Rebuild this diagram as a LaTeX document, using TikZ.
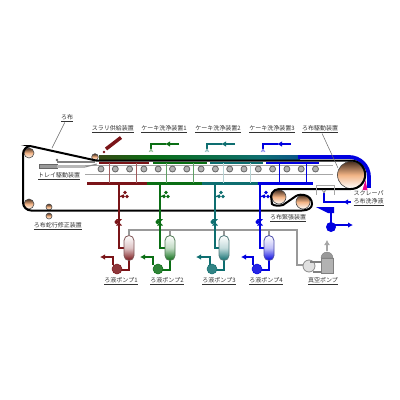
\documentclass[tikz,border=0pt]{standalone}
\usepackage{fontspec}
\newfontfamily\cjk{Noto Sans CJK JP}
\definecolor{reda}{HTML}{7A1418}
\definecolor{grna}{HTML}{0A6E14}
\definecolor{teala}{HTML}{0E6E70}
\definecolor{blua}{HTML}{0000E0}
\definecolor{peach}{HTML}{F2B486}
\definecolor{umber}{HTML}{4A3020}
\pgfdeclarehorizontalshading{bandshade}{100bp}{color(0bp)=(reda!85!black); color(25bp)=(reda!40!grna); color(38bp)=(grna); color(50bp)=(grna!55!teala); color(65bp)=(teala); color(78bp)=(teala!70!blua); color(100bp)=(blua)}
\tikzset{
  lab/.style={font=\cjk\fontsize{6}{7}\selectfont,text=black!80,inner sep=0.5pt},
  lead/.style={draw=black!60,line width=0.5pt},
  beltline/.style={draw=black,line width=2pt},
  roller/.style={draw=black!70,line width=0.6pt,top color=umber,bottom color=white,middle color=peach},
  wheel/.style={draw=black!60,fill=black!30,line width=0.8pt},
  pipe/.style={line width=1.6pt},
  bar/.style={line width=3pt},
  tip/.style={-{Latex[length=5pt,width=5.5pt]}}
}
\usetikzlibrary{arrows.meta}
\begin{document}
\begin{tikzpicture}[x=1pt,y=-1pt]
  \useasboundingbox (0,0) rectangle (400,400);
  % rails and tray cylinder
  \draw[black!35,line width=0.8pt] (85,165)--(333,165);
  \draw[black!35,line width=0.8pt] (85,174)--(333,174);
  \fill[black!40,draw=black!60,line width=0.3pt] (39,164) rectangle (57,168);
  \fill[black!28] (57,165) rectangle (85,168);
  \draw[black!45,line width=1pt] (85,167)--(97,164);
  \draw[black!50,line width=2pt] (57,161.5)--(95,161.5);
  \fill[black!60] (57,160) circle (1.3);
  % band of cake
  \shade[shading=bandshade] (99,155) rectangle (300,160);
  \draw[blua,line width=3.8pt,rounded corners=20] (298,157)--(369,157)--(369,182);
  \fill[blua] (367,182) rectangle (371,188);
  % rollers
  \shade[roller] (351,175) circle (13.5);
  \shade[roller] (279,197) circle (7);
  \shade[roller] (303,202) circle (7);
  \shade[roller] (29,153) circle (5);
  \shade[roller] (29,204) circle (5);
  \shade[roller] (95,157) circle (3.3);
  \shade[roller] (49,207) circle (3);
  \shade[roller] (49,216) circle (3);
  \foreach \wx in {0,...,15}
    \draw[wheel] ({101+14.3*\wx},169) circle (3);
  % belt
  \draw[beltline] (30,146)--(96,160.5)--(351,160.5) arc[start angle=-90,end angle=90,radius=14.25]
    --(279,189) arc[start angle=-90,end angle=-200,radius=8]
    --(272,204) .. controls (274,206) and (279,206) .. (283,205)
    --(296,196) .. controls (301,193) and (312,195) .. (312,204)
    .. controls (312,208) and (308,210.5) .. (302,210.5)
    --(31,210.5) arc[start angle=90,end angle=180,radius=8]
    --(23,154) arc[start angle=180,end angle=270,radius=8]--cycle;
  % scraper
  \fill[magenta] (362.5,190)--(367.5,190)--(365.5,180)--cycle;
  % slurry feed
  \draw[reda,line width=3.5pt] (106,149)--(121,137.5);
  \fill[reda] (104,152) circle (1.3);
  % trays and lower bars
  \draw[reda,line width=2.4pt] (99,163)--(149,163);
  \draw[grna,line width=2.4pt] (153,163)--(207,163);
  \draw[teala,line width=2.4pt] (210,163)--(263,163);
  \draw[blua,line width=2.4pt] (266,163)--(319,163);
  \draw[reda,bar] (87,183)--(147,183);
  \draw[grna,bar] (147,183)--(202,183);
  \draw[teala,bar] (202,183)--(258,183);
  \draw[blua,bar] (258,183)--(313,183);
  \draw[reda!70!white,line width=1pt] (109,163)--(109,183) (136,163)--(136,183);
  \draw[grna!65!white,line width=1pt] (166,163)--(166,183) (193,163)--(193,183);
  \draw[teala!30!white,line width=1pt] (223,163)--(223,183) (250,163)--(250,183);
  \draw[blua,line width=1pt] (279,163)--(279,183) (306,163)--(306,183);
  % wash units
  \foreach \ax/\bx/\cx/\lc in {179/166/151/grna,235/222/207/teala,291/278/263/blua}{
    \draw[\lc,pipe] (\bx,144)--(\cx,144)--(\cx,149);
    \draw[\lc,line width=2pt,tip] (\ax,144)--(\bx-1,144);
    \draw[\lc!50!white,line width=0.6pt] (\cx-2,152)--(\cx,149)--(\cx+2,152) (\cx,149)--(\cx,152);
  }
  % vacuum line
  \draw[black!40,line width=2pt] (129,235)--(129,230)--(297,230)--(297,265)--(304,265);
  \draw[black!40,line width=2pt] (170,230)--(170,236) (224,230)--(224,236) (269,230)--(269,236);
  % filtrate lines
  \foreach \dx/\tx/\px/\ax/\bx/\lc in {119/129/117/113/100/reda,160/170/158/153/140/grna,215/224/212/210/196/teala,260/269/257/253/241/blua}{
    \draw[\lc,pipe] (\dx,183)--(\dx,248)--(\tx-5,248);
    \draw[\lc,pipe] (\tx,260)--(\tx,270)--(\px,270);
    \draw[\lc,pipe] (\ax,265)--(\ax,257)--(\bx+3,257);
    \draw[\lc,pipe,tip] (\bx+5,257)--(\bx,257);
    \shade[rounded corners=5,top color=white,bottom color=\lc,middle color=\lc!25!white,draw=\lc!60!black!70,line width=0.8pt] (\tx-5,235.5) rectangle (\tx+5,260.5);
    \fill[\lc!85!white,draw=\lc,line width=0.5pt] (\px,269) circle (5);
    % valves
    \draw[\lc,line width=1.2pt] (\dx,197)--(\dx+5,195);
    \fill[\lc] (\dx+6,192.5) circle (1.9) (\dx+4,196.5) circle (1.9) (\dx+8,196.5) circle (1.9);
    \fill[\lc] (\dx-3,219)--(\dx+3,219)--(\dx-3,225.5)--(\dx+3,225.5)--cycle;
    \fill[\lc] (\dx-2.5,222) circle (2);
  }
  % cloth wash and receiver
  \draw[black!35,line width=0.6pt] (316,195)--(316,185)--(334,185)--(334,195);
  \draw[blua,pipe] (324,193)--(324,202)--(345,202);
  \draw[blua,pipe,tip] (351,202)--(343,202);
  \draw[black!50,line width=0.5pt] (322,190)--(324,193)--(326,190) (324,190)--(324,193);
  \fill[blua] (316,207)--(334,207)--(334,213)--(328,213)--cycle;
  \draw[blua,line width=2pt] (331,212)--(331,225);
  \draw[blua,pipe,tip] (333,225)--(353,225);
  \fill[blua] (331,227) circle (5);
  % vacuum pump
  \draw[black!45,fill=black!12,line width=0.8pt] (309,266) circle (6);
  \draw[black!50,line width=1.4pt] (310,262)--(322,262) (313,272)--(322,272);
  \fill[black!30,draw=black!50,line width=0.4pt] (321,258) rectangle (333,273.5);
  \fill[black!40,draw=black!50,line width=0.4pt] (321,258) arc[start angle=180,end angle=360,radius=6]--cycle;
  \draw[black!35,line width=2pt,-{Latex[length=5pt,width=6pt]}] (327,251)--(327,240);
  % names
  \node[lab] (lbCloth) at (67,118) {\underline{ろ布}};
  \node[lab] (lbSlurry) at (113,129) {\underline{スラリ供給装置}};
  \node[lab] (lbWashA) at (164,129) {\underline{ケーキ洗浄装置1}};
  \node[lab] (lbWashB) at (218,129) {\underline{ケーキ洗浄装置2}};
  \node[lab] (lbWashC) at (272,129) {\underline{ケーキ洗浄装置3}};
  \node[lab] (lbDrive) at (320,129) {\underline{ろ布駆動装置}};
  \node[lab] (lbTray) at (59,176) {\underline{トレイ駆動装置}};
  \node[lab] (lbTrack) at (58,226) {\underline{ろ布蛇行修正装置}};
  \node[lab,anchor=west] (lbScraper) at (353,193) {スクレーパ};
  \node[lab,anchor=west] (lbWashLiq) at (353,202) {\underline{ろ布洗浄液}};
  \node[lab] (lbTension) at (288,218) {\underline{ろ布緊張装置}};
  \node[lab] (lbPumpA) at (121,281) {\underline{ろ液ポンプ1}};
  \node[lab] (lbPumpB) at (167,281) {\underline{ろ液ポンプ2}};
  \node[lab] (lbPumpC) at (219,281) {\underline{ろ液ポンプ3}};
  \node[lab] (lbPumpD) at (266,281) {\underline{ろ液ポンプ4}};
  \node[lab] (lbVac) at (323,281) {\underline{真空ポンプ}};
  \coordinate (clothpt) at (52,148);
  \coordinate (drivept) at (338,168);
  \draw[lead] (lbCloth) -- (clothpt);
  \draw[lead] (lbDrive) -- (drivept);
\end{tikzpicture}
\end{document}
